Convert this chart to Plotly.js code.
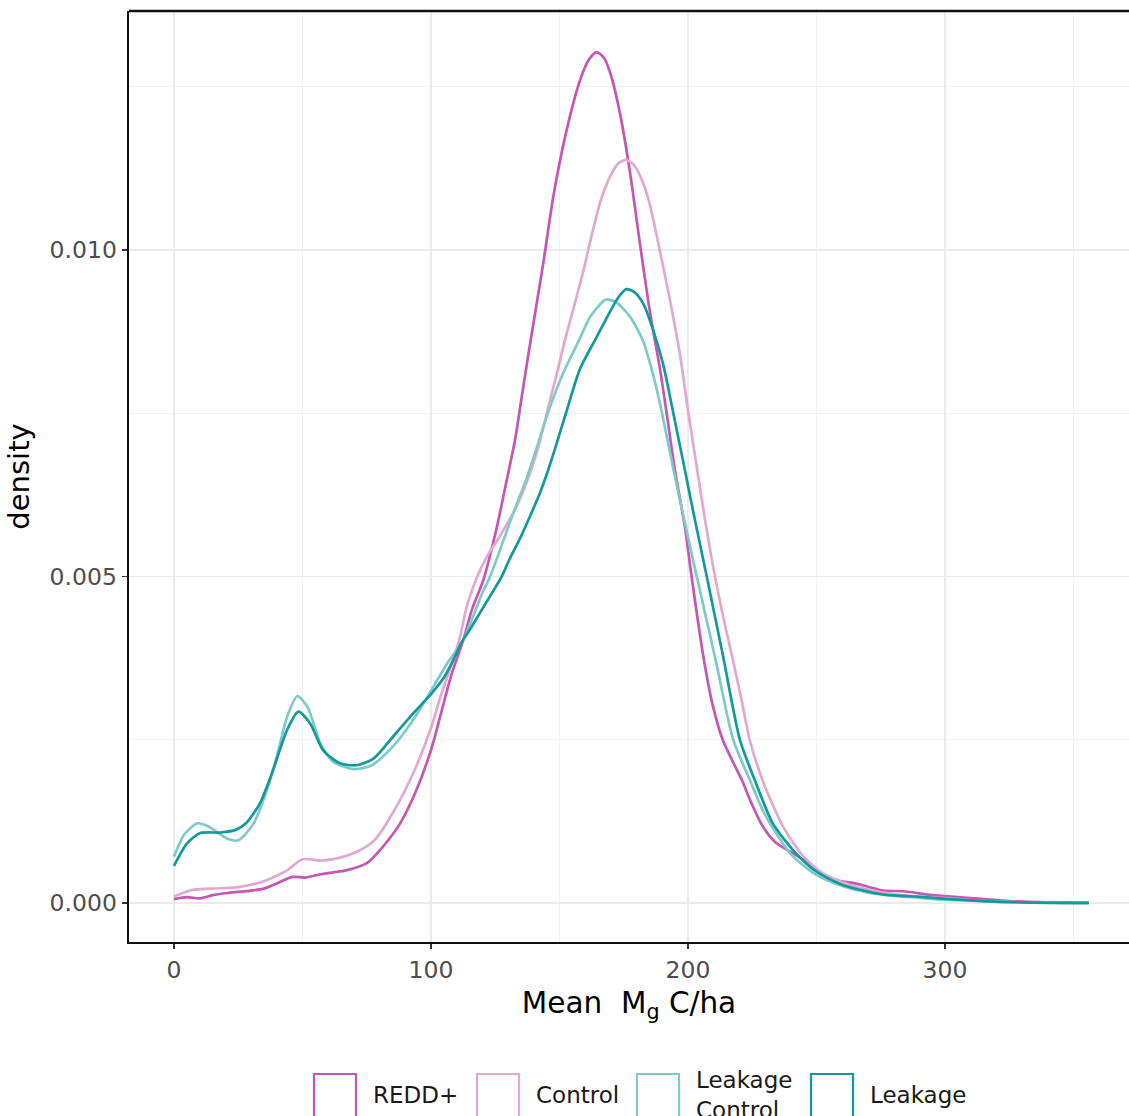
<!DOCTYPE html>
<html>
<head>
<meta charset="utf-8">
<script src="https://cdn.plot.ly/plotly-3.0.1.min.js"></script>
<style>
html, body { margin: 0; padding: 0; background: #ffffff; overflow: hidden; }
#chart { width: 1129px; height: 1116px; }
</style>
</head>
<body>
<div id="chart"></div>
<script>
// ---- Data ----
const seriesNames = ["REDD+", "Control", "Leakage\nControl", "Leakage"];
const seriesColors = ["#c656b4", "#e2a8d0", "#80c9c9", "#13999b"];

const reddX = [0, 5, 10, 15, 20, 25, 30, 35, 40, 46, 51, 57, 62, 67, 75, 81, 88, 94, 100, 104, 108, 112.6, 116, 120.4, 125.6, 129.5, 132.7, 135.5, 138.5, 143.7, 147.6, 152.8, 158, 161.5, 164.5, 167.5, 170, 173.5, 177.4, 181.3, 185.2, 189.1, 191.7, 194.9, 198.8, 201.4, 206, 209.5, 213.5, 217, 221, 225, 229, 234, 240, 245, 250, 258, 265, 270, 276, 284, 295, 305, 315, 325, 340, 356];
const reddY = [0.00006, 0.00009, 0.00007, 0.00012, 0.00015, 0.00017, 0.00019, 0.00022, 0.00030, 0.00040, 0.00039, 0.00044, 0.00047, 0.00050, 0.00061, 0.00085, 0.00122, 0.00170, 0.00234, 0.00292, 0.00350, 0.00403, 0.00450, 0.00495, 0.00575, 0.00648, 0.00709, 0.00780, 0.00855, 0.00980, 0.01082, 0.01184, 0.01260, 0.01292, 0.01303, 0.01293, 0.01268, 0.01210, 0.01120, 0.01010, 0.00905, 0.00818, 0.00750, 0.00663, 0.00576, 0.00500, 0.00377, 0.00305, 0.00250, 0.00220, 0.00188, 0.00150, 0.00118, 0.00093, 0.00078, 0.00066, 0.00050, 0.00035, 0.00030, 0.00025, 0.00019, 0.00018, 0.00012, 0.00009, 0.00006, 0.00003, 0.00001, 0.000002];

const controlX = [0, 7, 14, 24, 30, 36, 44, 50, 57, 63, 71, 78, 85, 93, 100, 104, 108, 111, 114, 118, 122, 127, 133, 138.5, 142.5, 146, 149, 152, 155.4, 159.3, 162.5, 166, 170, 173, 176, 179, 182, 185, 189, 193, 197, 200, 203.4, 206.5, 210.5, 214, 217.6, 221, 224, 229, 233, 237, 241, 245, 252.6, 263, 276, 289, 302, 315, 330, 356];
const controlY = [0.00010, 0.00020, 0.00022, 0.00024, 0.00028, 0.00035, 0.00050, 0.00067, 0.00065, 0.00068, 0.00078, 0.00096, 0.00137, 0.00198, 0.00268, 0.00320, 0.00365, 0.00403, 0.00455, 0.00500, 0.00532, 0.00563, 0.00605, 0.00658, 0.00709, 0.00765, 0.00811, 0.00860, 0.00910, 0.00968, 0.01022, 0.01075, 0.01115, 0.01133, 0.01138, 0.01130, 0.01108, 0.01072, 0.01000, 0.00923, 0.00837, 0.00755, 0.00668, 0.00590, 0.00500, 0.00433, 0.00370, 0.00308, 0.00250, 0.00188, 0.00150, 0.00117, 0.00092, 0.00071, 0.00045, 0.00028, 0.00016, 0.00010, 0.00007, 0.00003, 0.00001, 0.000002];

const leakCtrlX = [0, 4, 9, 13, 17, 21, 25, 31, 37, 41, 44, 48, 52, 57, 62, 70, 77, 85, 93, 100, 106, 112.6, 117, 120, 123, 126.8, 132, 137, 141.8, 145, 151.5, 158, 162, 168, 172, 177.4, 182.6, 186.5, 189.8, 194.3, 198.8, 203.4, 210.5, 217.6, 224.1, 230, 240, 250, 260, 270, 280, 290, 300, 315, 330, 356];
const leakCtrlY = [0.00071, 0.00105, 0.00122, 0.00118, 0.00108, 0.00098, 0.00096, 0.00122, 0.00183, 0.00240, 0.00285, 0.00317, 0.00300, 0.00244, 0.00216, 0.00205, 0.00211, 0.00239, 0.00280, 0.00325, 0.00365, 0.00403, 0.00445, 0.00475, 0.00500, 0.00540, 0.00597, 0.00648, 0.00705, 0.00745, 0.00812, 0.00865, 0.00898, 0.00924, 0.00920, 0.00898, 0.00860, 0.00808, 0.00752, 0.00665, 0.00582, 0.00500, 0.00377, 0.00250, 0.00188, 0.00135, 0.00075, 0.00043, 0.00026, 0.00016, 0.00011, 0.00008, 0.00005, 0.00003, 0.00001, 0.000001];

const leakX = [0, 5, 10, 18, 24, 28, 33.5, 38.6, 44, 48.4, 53, 58, 64.6, 71, 77.6, 85.3, 93, 100, 105, 108.7, 112, 115, 119, 123, 127.5, 131, 134.6, 138.5, 142.4, 145.5, 149, 152.5, 158, 164.5, 170, 173, 176, 179, 182.6, 186.5, 190.4, 194.3, 198.8, 202, 207.3, 213.7, 220.2, 226, 233, 242, 250, 260, 276, 289, 302, 315, 330, 356];
const leakY = [0.00057, 0.00091, 0.00107, 0.00108, 0.00112, 0.00122, 0.00153, 0.00204, 0.00265, 0.00293, 0.00275, 0.00234, 0.00214, 0.00211, 0.00221, 0.00255, 0.00290, 0.00320, 0.00345, 0.00372, 0.00400, 0.00418, 0.00444, 0.00470, 0.00500, 0.00530, 0.00558, 0.00592, 0.00628, 0.00662, 0.00705, 0.00750, 0.00818, 0.00867, 0.00908, 0.00928, 0.00940, 0.00936, 0.00918, 0.00877, 0.00824, 0.00750, 0.00663, 0.00600, 0.00500, 0.00377, 0.00250, 0.00188, 0.00122, 0.00076, 0.00048, 0.00028, 0.00013, 0.00010, 0.00006, 0.00003, 0.00001, 0.000001];

const xs = [reddX, controlX, leakCtrlX, leakX];
const ys = [reddY, controlY, leakCtrlY, leakY];

const xTitle = "Mean\u00a0\u00a0M<sub>g</sub> C/ha";
const yTitle = "density";

// ---- Traces ----
const traces = seriesNames.map((name, i) => ({
  type: "scatter",
  mode: "lines",
  name: name,
  x: xs[i],
  y: ys[i],
  line: { color: seriesColors[i], width: 2.7, shape: "spline", smoothing: 0.7 },
  showlegend: false,
  hoverinfo: "skip"
}));

// ---- Manual ggplot-style legend (boxed keys) ----
const keyLeft = [314, 477, 637, 811];
const keyW = 42;
const plotL = 129, plotR = 1129, plotT = 11, plotB = 942;
const px2paperX = (px) => (px - plotL) / (plotR - plotL);
const px2paperY = (py) => (plotB - py) / (plotB - plotT);

const shapes = [
  { type: "line", xref: "paper", yref: "paper", x0: 0, x1: 1.01, y0: 1, y1: 1,
    line: { color: "#111111", width: 2.6 } }
];
const annotations = [];
seriesNames.forEach((name, i) => {
  shapes.push({
    type: "rect", xref: "paper", yref: "paper",
    x0: px2paperX(keyLeft[i]), x1: px2paperX(keyLeft[i] + keyW),
    y0: px2paperY(1074), y1: px2paperY(1125),
    line: { color: seriesColors[i], width: 2.2 },
    fillcolor: "rgba(255,255,255,0)"
  });
  annotations.push({
    xref: "paper", yref: "paper",
    x: px2paperX(keyLeft[i] + keyW + 15), y: px2paperY(1095),
    xanchor: "left", yanchor: "middle", align: "left",
    text: name.replace("\n", "<br>"),
    showarrow: false,
    font: { family: "DejaVu Sans", size: 23, color: "#1a1a1a" }
  });
});

const layout = {
  width: 1129,
  height: 1116,
  margin: { l: 129, r: 0, t: 11, b: 174, pad: 0 },
  paper_bgcolor: "#ffffff",
  plot_bgcolor: "#ffffff",
  showlegend: false,
  font: { family: "DejaVu Sans", color: "#000000" },
  xaxis: {
    range: [-17.5, 371.6],
    dtick: 100, tick0: 0,
    showgrid: true, gridcolor: "#ebebeb", gridwidth: 1.6,
    minor: { dtick: 50, tick0: 0, showgrid: true, gridcolor: "#f2f2f2", gridwidth: 1, ticks: "" },
    zeroline: false,
    showline: true, linecolor: "#111111", linewidth: 2.4,
    ticks: "outside", ticklen: 5, tickwidth: 1.5, tickcolor: "#333333",
    tickfont: { family: "DejaVu Sans", size: 23.5, color: "#4d4d4d" },
    title: { text: xTitle, font: { family: "DejaVu Sans", size: 29.5, color: "#000000" }, standoff: 10 }
  },
  yaxis: {
    range: [-0.000597, 0.01366],
    dtick: 0.005, tick0: 0, tickformat: ".3f",
    showgrid: true, gridcolor: "#ebebeb", gridwidth: 1.6,
    minor: { dtick: 0.0025, tick0: 0, showgrid: true, gridcolor: "#f2f2f2", gridwidth: 1, ticks: "" },
    zeroline: false,
    showline: true, linecolor: "#111111", linewidth: 2.4,
    ticks: "outside", ticklen: 5, tickwidth: 1.5, tickcolor: "#333333",
    tickfont: { family: "DejaVu Sans", size: 23.5, color: "#4d4d4d" },
    title: { text: yTitle, font: { family: "DejaVu Sans", size: 29, color: "#000000" }, standoff: 12 }
  },
  shapes: shapes,
  annotations: annotations
};

Plotly.newPlot("chart", traces, layout, { displayModeBar: false, staticPlot: true });
</script>
</body>
</html>
